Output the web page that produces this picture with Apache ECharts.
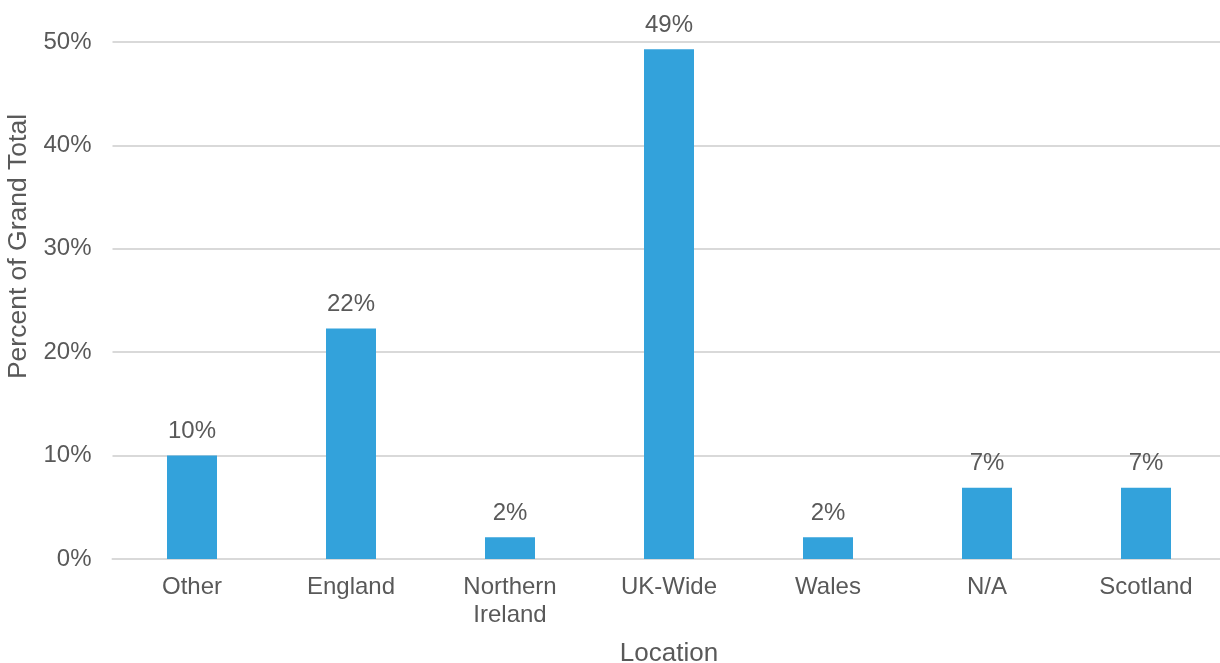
<!DOCTYPE html>
<html><head><meta charset="utf-8">
<script src="https://cdn.jsdelivr.net/npm/echarts@6/dist/echarts.min.js"></script>
<style>html,body{margin:0;padding:0;background:#fff}#c{width:1220px;height:663px}</style>
</head><body><div id="c"></div>
<script>
const categories = ['Other', 'England', 'Northern\nIreland', 'UK-Wide', 'Wales', 'N/A', 'Scotland'];
const values = [10.0, 22.3, 2.1, 49.3, 2.1, 6.9, 6.9];
const yTicks = [0, 10, 20, 30, 40, 50];

const chart = echarts.init(document.getElementById('c'));
const font = 'Liberation Sans, Arial, sans-serif';
chart.setOption({
  animation: false,
  grid: { left: 112.5, top: 42, width: 1113, height: 517, outerBoundsMode: 'none', containLabel: false },
  xAxis: {
    type: 'category', data: categories,
    name: 'Location', nameLocation: 'middle', nameGap: 82,
    nameTextStyle: { color: '#595959', fontSize: 26, fontFamily: font },
    axisLine: { lineStyle: { color: '#d9d9d9', width: 2 } },
    axisTick: { show: false },
    axisLabel: { color: '#595959', fontSize: 24, fontFamily: font, margin: 14, lineHeight: 28 }
  },
  yAxis: {
    type: 'value', min: yTicks[0], max: yTicks[yTicks.length - 1], interval: 10,
    name: 'Percent of Grand Total', nameLocation: 'middle', nameGap: 76,
    nameTextStyle: { color: '#595959', fontSize: 26.5, fontFamily: font, padding: [0, 0, 0, 108] },
    axisLine: { show: false }, axisTick: { show: false },
    axisLabel: { color: '#595959', fontSize: 24, fontFamily: font, margin: 21, formatter: v => v + '%' },
    splitLine: { lineStyle: { color: '#d9d9d9', width: 2 } }
  },
  series: [{
    type: 'bar', data: values, barWidth: 50,
    itemStyle: { color: '#33a2db' },
    label: { show: true, position: 'top', distance: 12, color: '#595959', fontSize: 24, fontFamily: font,
      formatter: p => Math.round(p.value) + '%' }
  }]
});
</script></body></html>
